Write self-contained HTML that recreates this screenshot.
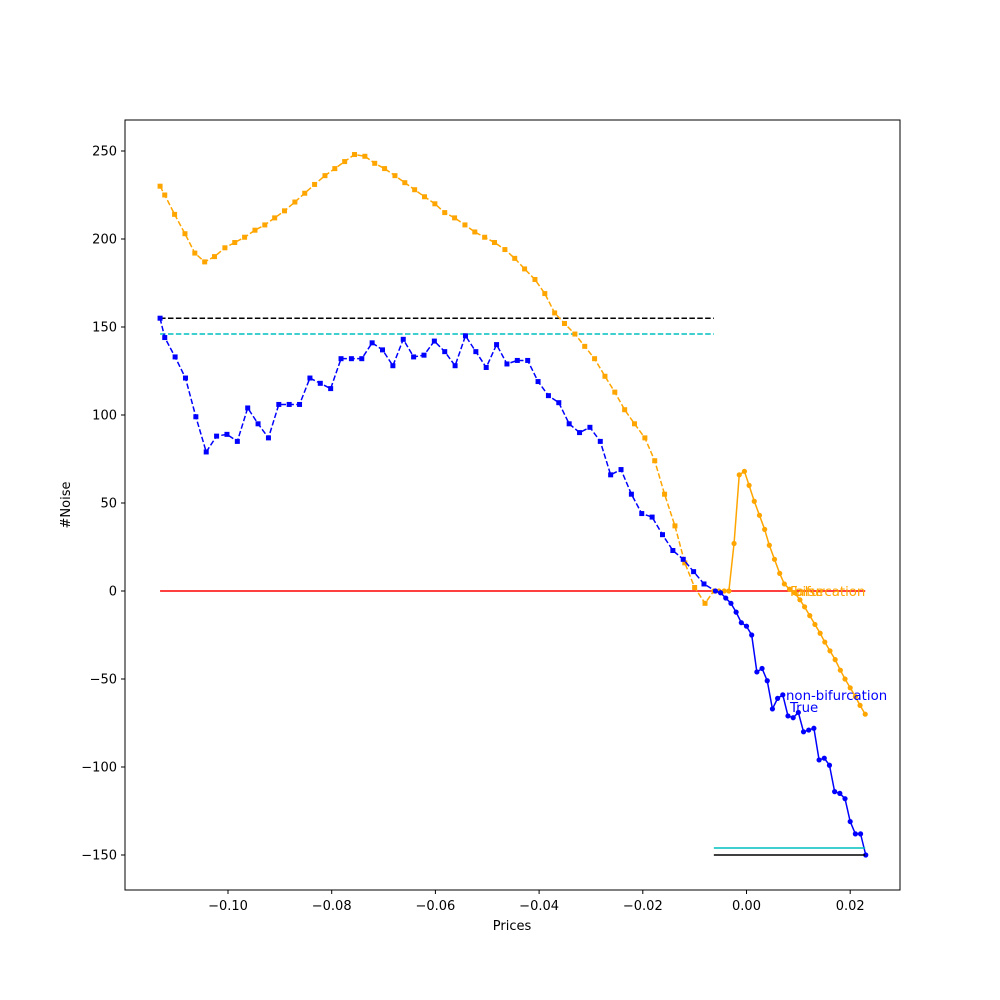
<!DOCTYPE html>
<html><head><meta charset="utf-8"><style>
body{margin:0;background:#fff;}
svg{display:block;font-family:"DejaVu Sans","Liberation Sans",sans-serif;}
</style></head><body>
<svg id="chart" width="1000" height="1000" viewBox="0 0 1000 1000" xmlns="http://www.w3.org/2000/svg">
<rect x="0" y="0" width="1000" height="1000" fill="#fff"/>
<g id="marks"></g>
<g id="axes"></g>
<rect x="125" y="120" width="775" height="770" fill="none" stroke="#000" stroke-width="1"/>
<text x="512" y="930" font-size="13" text-anchor="middle">Prices</text>
<text x="70" y="505" font-size="13" text-anchor="middle" transform="rotate(-90 70 505)">#Noise</text>
</svg>
<script>
const xTicks = [-0.10, -0.08, -0.06, -0.04, -0.02, 0.00, 0.02];
const xTickLabels = ["\u22120.10","\u22120.08","\u22120.06","\u22120.04","\u22120.02","0.00","0.02"];
const yTicks = [250, 200, 150, 100, 50, 0, -50, -100, -150];
const yTickLabels = ["250","200","150","100","50","0","\u221250","\u2212100","\u2212150"];

const blueDashX = [-0.1131,-0.1122,-0.1102,-0.1082,-0.1062,-0.1042,-0.1022,-0.1002,-0.0982,-0.0962,-0.0942,-0.0922,-0.0902,-0.0882,-0.0862,-0.0842,-0.0822,-0.0802,-0.0782,-0.0762,-0.0742,-0.0722,-0.0702,-0.0682,-0.0662,-0.0642,-0.0622,-0.0602,-0.0582,-0.0562,-0.0542,-0.0522,-0.0502,-0.0482,-0.0462,-0.0442,-0.0422,-0.0402,-0.0382,-0.0362,-0.0342,-0.0322,-0.0302,-0.0282,-0.0262,-0.0242,-0.0222,-0.0202,-0.0182,-0.0162,-0.0142,-0.0122,-0.0102,-0.0082];
const blueDashY = [155,144,133,121,99,79,88,89,85,104,95,87,106,106,106,121,118,115,132,132,132,141,137,128,143,133,134,142,136,128,145,136,127,140,129,131,131,119,111,107,95,90,93,85,66,69,55,44,42,32,23,18,11,4];
const blueSolidX = [-0.006,-0.005,-0.004,-0.003,-0.002,-0.001,0.000,0.001,0.002,0.003,0.004,0.005,0.006,0.007,0.008,0.009,0.010,0.011,0.012,0.013,0.014,0.015,0.016,0.017,0.018,0.019,0.020,0.021,0.022,0.023];
const blueSolidY = [0,-1,-4,-7,-12,-18,-20,-25,-46,-44,-51,-67,-61,-59,-71,-72,-69,-80,-79,-78,-96,-95,-99,-114,-115,-118,-131,-138,-138,-150];

const orangeDashX = [-0.1131,-0.1122,-0.1103,-0.1083,-0.1064,-0.1045,-0.1026,-0.1006,-0.0987,-0.0968,-0.0948,-0.0929,-0.0910,-0.0891,-0.0871,-0.0852,-0.0833,-0.0813,-0.0794,-0.0775,-0.0756,-0.0736,-0.0717,-0.0698,-0.0678,-0.0659,-0.0640,-0.0621,-0.0601,-0.0582,-0.0563,-0.0543,-0.0524,-0.0505,-0.0486,-0.0466,-0.0447,-0.0428,-0.0408,-0.0389,-0.0370,-0.0351,-0.0331,-0.0312,-0.0293,-0.0273,-0.0254,-0.0235,-0.0216,-0.0196,-0.0177,-0.0158,-0.0138,-0.0119,-0.0100,-0.0080];
const orangeDashY = [230,225,214,203,192,187,190,195,198,201,205,208,212,216,221,226,231,236,240,244,248,247,243,240,236,232,228,224,220,215,212,208,204,201,198,194,189,183,177,169,158,152,146,139,132,122,113,103,95,87,74,55,37,16,2,-7];
const orangeSolidX = [-0.0063,-0.0053,-0.0043,-0.0034,-0.0024,-0.0014,-0.0004,0.0005,0.0015,0.0025,0.0035,0.0044,0.0054,0.0064,0.0073,0.0083,0.0093,0.0103,0.0112,0.0122,0.0132,0.0142,0.0151,0.0161,0.0171,0.0181,0.0190,0.0200,0.0210,0.0219,0.0229];
const orangeSolidY = [0,0,0,0,27,66,68,60,51,43,35,26,18,10,4,1,-1,-5,-9,-14,-19,-24,-29,-34,-39,-45,-50,-55,-60,-65,-70];

const hLineValues = [155, 146, 0, -146, -150];

const NS = "http://www.w3.org/2000/svg";
const X0 = 746.5, XS = 5185, Y0 = 591, YS = 1.76;
function sx(v){ return X0 + v*XS; }
function sy(v){ return Y0 - v*YS; }
const marks = document.getElementById('marks');
const axes = document.getElementById('axes');
function mk(tag, attrs, parent){
  const e = document.createElementNS(NS, tag);
  for (const k in attrs) e.setAttribute(k, attrs[k]);
  parent.appendChild(e);
  return e;
}
function hline(v, x1, x2, color, dash, name){
  const l = mk('line', {x1:sx(x1), x2:sx(x2), y1:sy(v), y2:sy(v), stroke:color, 'stroke-width':1.5, 'stroke-dasharray':dash}, marks);
  
  
}
function poly(xs, ys, color, dash, name){
  const p = mk('polyline', {points: xs.map((x,i)=>sx(x)+','+sy(ys[i])).join(' '), fill:'none', stroke:color, 'stroke-width':1.5, 'stroke-dasharray':dash, 'stroke-linejoin':'round'}, marks);
  
  
}
function squares(xs, ys, color, name){
  const g = mk('g', {fill:color}, marks);
  
  
  xs.forEach((x,i)=>{ mk('rect', {x:sx(x)-2.5, y:sy(ys[i])-2.5, width:5, height:5}, g); });
}
function dots(xs, ys, color, name){
  const g = mk('g', {fill:color}, marks);
  
  
  xs.forEach((x,i)=>{ mk('circle', {cx:sx(x), cy:sy(ys[i]), r:2.6}, g); });
}

hline(hLineValues[0], -0.1131, -0.0063, '#000', '5.5,2.4', 'black-dashed-line');
hline(hLineValues[1], -0.1131, -0.0063, '#00bfbf', '5.5,2.4', 'cyan-dashed-line');
hline(hLineValues[2], -0.1131, 0.0229, '#ff0000', '', 'red-zero-line');

poly(orangeDashX.concat([orangeSolidX[0]]), orangeDashY.concat([orangeSolidY[0]]), '#ffa500', '5.5,2.4', 'orange-dashed-series');
squares(orangeDashX, orangeDashY, '#ffa500', 'orange-dashed-markers');
poly(orangeSolidX, orangeSolidY, '#ffa500', '', 'orange-solid-series');
dots(orangeSolidX, orangeSolidY, '#ffa500', 'orange-solid-markers');
poly(blueDashX.concat([blueSolidX[0]]), blueDashY.concat([blueSolidY[0]]), '#0000ff', '5.5,2.4', 'blue-dashed-series');
squares(blueDashX, blueDashY, '#0000ff', 'blue-dashed-markers');
poly(blueSolidX, blueSolidY, '#0000ff', '', 'blue-solid-series');
dots(blueSolidX, blueSolidY, '#0000ff', 'blue-solid-markers');

hline(hLineValues[3], -0.0063, 0.0229, '#00bfbf', '', 'cyan-solid-line');
hline(hLineValues[4], -0.0063, 0.0229, '#000', '', 'black-solid-line');

const ann = [
  ['non-bifurcation', 786, 700, '#0000ff', 'label-non-bifurcation'],
  ['True', 790, 712, '#0000ff', 'label-true'],
  ['False', 790, 596, '#ffa500', 'label-false'],
  ['bifurcation', 794, 596, '#ffa500', 'label-bifurcation']
];
ann.forEach(a=>{
  const t = mk('text', {x:a[1], y:a[2], fill:a[3], 'font-size':13.3}, marks);
  t.textContent = a[0];
  
  
});

xTicks.forEach((v,i)=>{
  const x = sx(v);
  const l = mk('line', {x1:x, x2:x, y1:890, y2:894, stroke:'#000', 'stroke-width':1}, axes);
  
  
  const t = mk('text', {x:x, y:910, 'font-size':13, 'text-anchor':'middle'}, axes);
  t.textContent = xTickLabels[i];
  
  
});
yTicks.forEach((v,i)=>{
  const y = sy(v);
  const l = mk('line', {x1:121, x2:125, y1:y, y2:y, stroke:'#000', 'stroke-width':1}, axes);
  
  
  const t = mk('text', {x:117, y:y+4.5, 'font-size':13, 'text-anchor':'end'}, axes);
  t.textContent = yTickLabels[i];
  
  
});
</script>
</body></html>
